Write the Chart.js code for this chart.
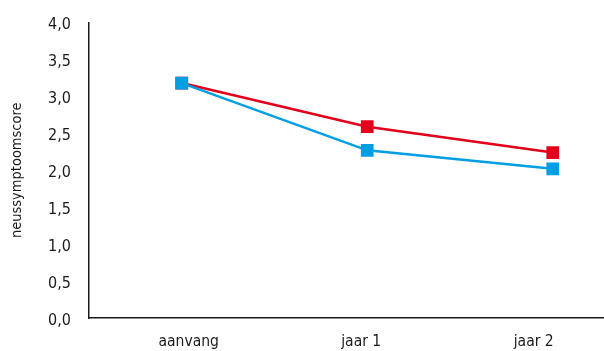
<!DOCTYPE html>
<html>
<head>
<meta charset="utf-8">
<script src="https://cdn.jsdelivr.net/npm/chart.js@4/dist/chart.umd.min.js"></script>
<style>
  html, body { margin: 0; padding: 0; background: #fff; overflow: hidden; }
  #wrap { width: 604px; height: 351px; overflow: hidden; position: relative; }
  canvas { display: block; }
</style>
</head>
<body>
<div id="wrap"><canvas id="chart" width="660" height="351"></canvas></div>
<script>
// Nasal symptom score over time, two groups
const categories = ['aanvang', 'jaar 1', 'jaar 2'];
const redSeries = [3.18, 2.59, 2.24];
const blueSeries = [3.18, 2.27, 2.02];
const yTickValues = [0, 0.5, 1, 1.5, 2, 2.5, 3, 3.5, 4];

const FONT = '"DejaVu Sans Condensed", "Liberation Sans Narrow", sans-serif';
const TEXT = '#1a1a1a';
const RED = '#e2001a';
const BLUE = '#009fe3';

const fmt = v => v.toFixed(1).replace('.', ',');

new Chart(document.getElementById('chart'), {
  type: 'line',
  data: {
    labels: categories,
    datasets: [
      {
        label: 'blauw',
        data: blueSeries,
        borderColor: BLUE,
        backgroundColor: BLUE,
        borderWidth: 2.5,
        pointStyle: 'rect',
        pointRadius: 9,
        pointBorderWidth: 0,
        tension: 0,
        order: 0
      },
      {
        label: 'rood',
        data: redSeries,
        borderColor: RED,
        backgroundColor: RED,
        borderWidth: 2.5,
        pointStyle: 'rect',
        pointRadius: 9,
        pointBorderWidth: 0,
        tension: 0,
        order: 1
      }
    ]
  },
  options: {
    responsive: false,
    animation: false,
    events: [],
    layout: { padding: { top: 22.5, right: 14.5, bottom: 0, left: 0 } },
    plugins: { legend: { display: false }, tooltip: { enabled: false } },
    scales: {
      x: {
        type: 'category',
        offset: true,
        weight: 0,
        grid: { display: false, drawTicks: false },
        border: { display: true, color: TEXT, width: 1.5 },
        ticks: { display: false },
        afterFit: s => { s.height = 0; }
      },
      xTicks: {
        type: 'linear',
        position: 'bottom',
        weight: 1,
        min: -0.578,
        max: 2.648,
        grid: { display: false, drawTicks: false },
        border: { display: false },
        afterBuildTicks: s => { s.ticks = categories.map((c, i) => ({ value: i })); },
        ticks: {
          autoSkip: false,
          maxRotation: 0,
          padding: 15,
          color: TEXT,
          font: { family: FONT, size: 15.5 },
          callback: v => categories[v]
        },
        afterFit: s => { s.height = 33; }
      },
      y: {
        min: 0,
        max: 4,
        grid: { display: false, drawTicks: false },
        border: { display: true, color: TEXT, width: 1.5 },
        afterBuildTicks: s => { s.ticks = yTickValues.map(v => ({ value: v })); },
        ticks: {
          padding: 18,
          labelOffset: 2.5,
          color: TEXT,
          font: { family: FONT, size: 16 },
          callback: v => fmt(v)
        },
        title: {
          display: true,
          text: 'neussymptoomscore',
          color: TEXT,
          font: { family: FONT, size: 14.5 },
          padding: { top: 9, bottom: 0 }
        },
        afterFit: s => {
          s.width = 89;
          // only half a label height is needed above/below the axis
          s.paddingTop = 10;
          s.paddingBottom = 10;
        }
      }
    }
  }
});
</script>
</body>
</html>
